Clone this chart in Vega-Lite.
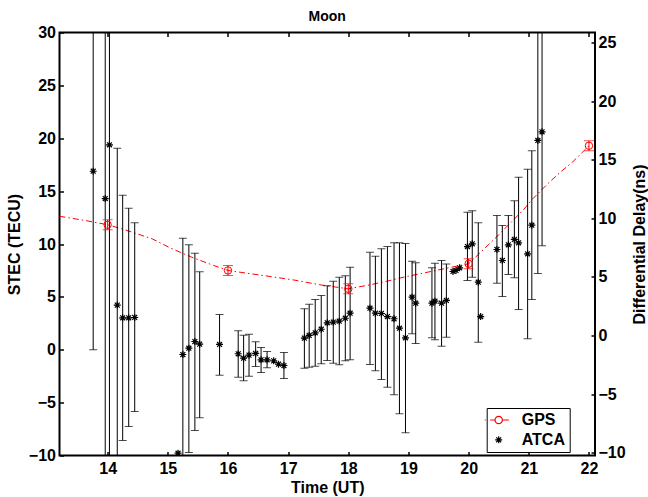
{
  "$schema": "https://vega.github.io/schema/vega-lite/v6.json",
  "width": 535.5,
  "height": 423,
  "autosize": {"type": "none"},
  "padding": {"left": 59.5, "top": 32.5, "right": 53, "bottom": 41.5},
  "background": "white",
  "title": {"text": "Moon", "font": "Liberation Sans", "fontSize": 14, "fontWeight": "bold", "color": "black", "baseline": "alphabetic", "offset": 2.5, "dy": 13},
  "config": {
    "view": {"stroke": "black", "strokeWidth": 2},
    "font": "Liberation Sans",
    "axis": {
      "labelFont": "Liberation Sans", "labelFontWeight": "bold", "labelFontSize": 16, "labelColor": "black",
      "titleFont": "Liberation Sans", "titleFontWeight": "bold", "titleFontSize": 16, "titleColor": "black",
      "domain": false, "tickColor": "black", "tickWidth": 1.5, "tickSize": -4, "grid": false
    }
  },
  "datasets": {
    "gpsline": [
      {"t": 13.2, "stec": 12.62}, {"t": 13.63, "stec": 12.22}, {"t": 14.0, "stec": 11.82}, {"t": 14.29, "stec": 11.34},
      {"t": 14.74, "stec": 10.49}, {"t": 15.05, "stec": 9.6}, {"t": 15.4, "stec": 8.75}, {"t": 15.76, "stec": 7.97},
      {"t": 16.0, "stec": 7.5}, {"t": 16.31, "stec": 7.24}, {"t": 16.7, "stec": 6.93}, {"t": 17.09, "stec": 6.6},
      {"t": 17.53, "stec": 6.14}, {"t": 18.0, "stec": 5.76}, {"t": 18.36, "stec": 6.14}, {"t": 18.64, "stec": 6.48},
      {"t": 18.97, "stec": 6.93}, {"t": 19.24, "stec": 7.24}, {"t": 19.58, "stec": 7.65}, {"t": 20.0, "stec": 8.13},
      {"t": 20.24, "stec": 9.45}, {"t": 20.46, "stec": 10.64}, {"t": 20.68, "stec": 11.91}, {"t": 20.9, "stec": 13.17},
      {"t": 21.07, "stec": 14.3}, {"t": 21.29, "stec": 15.56}, {"t": 21.51, "stec": 16.73}, {"t": 21.73, "stec": 17.77},
      {"t": 22.0, "stec": 19.29}
    ],
    "gps": [
      {"t": 14, "stec": 11.82, "lo": 11.35, "hi": 12.29},
      {"t": 16, "stec": 7.5, "lo": 7.03, "hi": 7.97},
      {"t": 18, "stec": 5.76, "lo": 5.29, "hi": 6.23},
      {"t": 20, "stec": 8.13, "lo": 7.66, "hi": 8.6},
      {"t": 22, "stec": 19.29, "lo": 18.82, "hi": 19.76}
    ],
    "atca": [
      {"t": 13.76, "stec": 16.88, "lo": 0.0, "hi": 33.76},
      {"t": 13.96, "stec": 14.3, "lo": -11.7, "hi": 40.3},
      {"t": 14.03, "stec": 19.38, "lo": -11.6, "hi": 50.4},
      {"t": 14.16, "stec": 4.22, "lo": -10.6, "hi": 19.06},
      {"t": 14.25, "stec": 3.02, "lo": -8.58, "hi": 14.62},
      {"t": 14.35, "stec": 3.02, "lo": -7.26, "hi": 13.39},
      {"t": 14.45, "stec": 3.05, "lo": -5.84, "hi": 12.0},
      {"t": 15.17, "stec": -9.78, "lo": null, "hi": null},
      {"t": 15.25, "stec": -0.45, "lo": -11.45, "hi": 10.55},
      {"t": 15.35, "stec": 0.15, "lo": -9.72, "hi": 9.92},
      {"t": 15.45, "stec": 0.78, "lo": -7.64, "hi": 9.13},
      {"t": 15.53, "stec": 0.53, "lo": -6.44, "hi": 7.37},
      {"t": 15.86, "stec": 0.5, "lo": -2.4, "hi": 3.33},
      {"t": 16.17, "stec": -0.38, "lo": -2.59, "hi": 1.79},
      {"t": 16.26, "stec": -0.8, "lo": -2.94, "hi": 1.38},
      {"t": 16.35, "stec": -0.51, "lo": -2.5, "hi": 1.47},
      {"t": 16.46, "stec": -0.35, "lo": -1.58, "hi": 0.75},
      {"t": 16.55, "stec": -0.95, "lo": -2.15, "hi": 0.21},
      {"t": 16.65, "stec": -0.95, "lo": -1.71, "hi": -0.17},
      {"t": 16.76, "stec": -1.05, "lo": null, "hi": null},
      {"t": 16.84, "stec": -1.37, "lo": null, "hi": null},
      {"t": 16.93, "stec": -1.49, "lo": -2.72, "hi": -0.26},
      {"t": 17.27, "stec": 1.1, "lo": -1.74, "hi": 3.87},
      {"t": 17.35, "stec": 1.35, "lo": -1.65, "hi": 4.31},
      {"t": 17.45, "stec": 1.6, "lo": -1.56, "hi": 4.75},
      {"t": 17.55, "stec": 1.94, "lo": -1.33, "hi": 5.13},
      {"t": 17.65, "stec": 2.55, "lo": -1.02, "hi": 6.05},
      {"t": 17.75, "stec": 2.61, "lo": -1.27, "hi": 6.48},
      {"t": 17.85, "stec": 2.7, "lo": -1.42, "hi": 6.86},
      {"t": 17.95, "stec": 2.98, "lo": -1.05, "hi": 7.0},
      {"t": 18.03, "stec": 3.46, "lo": -0.95, "hi": 7.81},
      {"t": 18.36, "stec": 3.93, "lo": -1.4, "hi": 9.22},
      {"t": 18.45, "stec": 3.46, "lo": -1.99, "hi": 8.85},
      {"t": 18.55, "stec": 3.43, "lo": -2.81, "hi": 9.55},
      {"t": 18.65, "stec": 3.14, "lo": -3.54, "hi": 9.76},
      {"t": 18.76, "stec": 2.93, "lo": -4.26, "hi": 10.11},
      {"t": 18.85, "stec": 2.04, "lo": -6.06, "hi": 10.11},
      {"t": 18.95, "stec": 1.13, "lo": -7.85, "hi": 10.05},
      {"t": 19.06, "stec": 4.97, "lo": 1.51, "hi": 8.37},
      {"t": 19.12, "stec": 4.4, "lo": 0.59, "hi": 8.22},
      {"t": 19.39, "stec": 4.4, "lo": 1.13, "hi": 7.75},
      {"t": 19.44, "stec": 4.59, "lo": 0.94, "hi": 8.18},
      {"t": 19.55, "stec": 4.4, "lo": 0.34, "hi": 8.44},
      {"t": 19.63, "stec": 4.66, "lo": 1.19, "hi": 8.12},
      {"t": 19.74, "stec": 7.4, "lo": null, "hi": null},
      {"t": 19.79, "stec": 7.5, "lo": null, "hi": null},
      {"t": 19.85, "stec": 7.75, "lo": null, "hi": null},
      {"t": 19.98, "stec": 9.76, "lo": 6.55, "hi": 13.01},
      {"t": 20.06, "stec": 10.02, "lo": 6.86, "hi": 13.14},
      {"t": 20.16, "stec": 6.39, "lo": 0.71, "hi": 12.0},
      {"t": 20.2, "stec": 3.14, "lo": null, "hi": null},
      {"t": 20.47, "stec": 9.48, "lo": 6.29, "hi": 12.7},
      {"t": 20.56, "stec": 8.44, "lo": 5.04, "hi": 11.75},
      {"t": 20.66, "stec": 9.92, "lo": 7.12, "hi": 12.7},
      {"t": 20.76, "stec": 10.43, "lo": 6.8, "hi": 14.08},
      {"t": 20.83, "stec": 10.11, "lo": 3.81, "hi": 16.32},
      {"t": 20.98, "stec": 9.07, "lo": 1.04, "hi": 17.07},
      {"t": 21.05, "stec": 11.78, "lo": 4.75, "hi": 18.81},
      {"t": 21.15, "stec": 19.79, "lo": 7.21, "hi": 32.4},
      {"t": 21.22, "stec": 20.61, "lo": 9.83, "hi": 31.4}
    ],
    "rightaxis": [{"t": 14, "ns": 0}]
  },
  "layer": [
    {
      "layer": [
        {
          "data": {"name": "gpsline"},
          "mark": {"type": "line", "color": "#ff0000", "strokeWidth": 1, "strokeDash": [6, 3, 1.5, 3], "clip": true},
          "encoding": {
            "x": {"field": "t", "type": "quantitative", "title": "Time (UT)", "scale": {"domain": [13.2, 22.1], "nice": false, "zero": false},
                  "axis": {"orient": "bottom", "values": [14, 15, 16, 17, 18, 19, 20, 21, 22], "format": "d", "labelPadding": 9, "titleBaseline": "alphabetic", "titleY": 37}},
            "y": {"field": "stec", "type": "quantitative", "title": "STEC (TECU)", "scale": {"domain": [-10, 30], "nice": false, "zero": false},
                  "axis": {"orient": "left", "values": [-10, -5, 0, 5, 10, 15, 20, 25, 30], "format": "d", "labelPadding": 8, "titlePadding": 6}}
          }
        },
        {
          "data": {"name": "atca"},
          "mark": {"type": "rule", "color": "black", "strokeWidth": 1, "clip": true},
          "encoding": {
            "x": {"field": "t", "type": "quantitative", "title": "Time (UT)"},
            "y": {"field": "lo", "type": "quantitative", "title": "STEC (TECU)"},
            "y2": {"field": "hi"}
          }
        },
        {
          "data": {"name": "atca"},
          "mark": {"type": "tick", "orient": "horizontal", "color": "black", "size": 8, "thickness": 1, "clip": true},
          "encoding": {
            "x": {"field": "t", "type": "quantitative", "title": "Time (UT)"},
            "y": {"field": "lo", "type": "quantitative", "title": "STEC (TECU)"}
          }
        },
        {
          "data": {"name": "atca"},
          "mark": {"type": "tick", "orient": "horizontal", "color": "black", "size": 8, "thickness": 1, "clip": true},
          "encoding": {
            "x": {"field": "t", "type": "quantitative", "title": "Time (UT)"},
            "y": {"field": "hi", "type": "quantitative", "title": "STEC (TECU)"}
          }
        },
        {
          "data": {"name": "gps"},
          "mark": {"type": "rule", "color": "#ff0000", "strokeWidth": 1, "clip": true},
          "encoding": {
            "x": {"field": "t", "type": "quantitative", "title": "Time (UT)"},
            "y": {"field": "lo", "type": "quantitative", "title": "STEC (TECU)"},
            "y2": {"field": "hi"}
          }
        },
        {
          "data": {"name": "gps"},
          "mark": {"type": "tick", "orient": "horizontal", "color": "#ff0000", "size": 10, "thickness": 1, "clip": true},
          "encoding": {
            "x": {"field": "t", "type": "quantitative", "title": "Time (UT)"},
            "y": {"field": "lo", "type": "quantitative", "title": "STEC (TECU)"}
          }
        },
        {
          "data": {"name": "gps"},
          "mark": {"type": "tick", "orient": "horizontal", "color": "#ff0000", "size": 10, "thickness": 1, "clip": true},
          "encoding": {
            "x": {"field": "t", "type": "quantitative", "title": "Time (UT)"},
            "y": {"field": "hi", "type": "quantitative", "title": "STEC (TECU)"}
          }
        },
        {
          "data": {"name": "gps"},
          "mark": {"type": "point", "shape": "circle", "filled": false, "color": "#ff0000", "size": 55, "strokeWidth": 1, "opacity": 1, "clip": true},
          "encoding": {
            "x": {"field": "t", "type": "quantitative", "title": "Time (UT)"},
            "y": {"field": "stec", "type": "quantitative", "title": "STEC (TECU)"}
          }
        },
        {
          "data": {"name": "atca"},
          "mark": {"type": "point", "filled": false, "size": 49, "strokeWidth": 1.2, "opacity": 1, "clip": true},
          "encoding": {
            "x": {"field": "t", "type": "quantitative", "title": "Time (UT)"},
            "y": {"field": "stec", "type": "quantitative", "title": "STEC (TECU)"},
            "color": {
              "datum": "ATCA", "type": "nominal",
              "scale": {"domain": ["GPS", "ATCA"], "range": ["#ff0000", "#000000"]},
              "legend": {
                "orient": "none", "legendX": 427.2, "legendY": 375.5, "title": null,
                "fillColor": "white", "strokeColor": "black", "padding": 4,
                "labelFont": "Liberation Sans", "labelFontSize": 16, "labelFontWeight": "bold", "labelColor": "black",
                "labelExpr": "datum.label + ' '",
                "symbolSize": 49, "symbolStrokeWidth": 1.2, "labelOffset": 15, "rowPadding": 3.8
              }
            },
            "shape": {
              "datum": "ATCA", "type": "nominal",
              "scale": {"domain": ["GPS", "ATCA"], "range": [
                "M-5.2,0M-4,0L-3.7,0M-2.4,0L-1.05,0M1.05,0L2.9,0M-1.05,0A1.05,1.05 0 1,0 1.05,0A1.05,1.05 0 1,0 -1.05,0",
                "M0,-1L0,1M-1,0L1,0M-0.7,-0.7L0.7,0.7M-0.7,0.7L0.7,-0.7"
              ]},
              "legend": {
                "orient": "none", "legendX": 427.2, "legendY": 375.5, "title": null,
                "fillColor": "white", "strokeColor": "black", "padding": 4,
                "labelFont": "Liberation Sans", "labelFontSize": 16, "labelFontWeight": "bold", "labelColor": "black",
                "labelExpr": "datum.label + ' '",
                "symbolSize": 49, "symbolStrokeWidth": 1.2, "labelOffset": 15, "rowPadding": 3.8
              }
            }
          }
        }
      ]
    },
    {
      "data": {"name": "rightaxis"},
      "mark": {"type": "point", "opacity": 0},
      "encoding": {
        "x": {"field": "t", "type": "quantitative", "scale": {"domain": [13.2, 22.1], "nice": false, "zero": false},
              "axis": {"orient": "top", "labels": false, "title": null, "values": [14, 15, 16, 17, 18, 19, 20, 21, 22]}},
        "y": {"field": "ns", "type": "quantitative", "title": "Differential Delay(ns)",
              "scale": {"domain": [-10.24, 25.85], "nice": false, "zero": false},
              "axis": {"orient": "right", "values": [-10, -5, 0, 5, 10, 15, 20, 25], "format": "d", "labelPadding": 7, "titleAngle": 270, "titleBaseline": "top", "titlePadding": 6}}
      }
    }
  ],
  "resolve": {"scale": {"y": "independent"}, "axis": {"x": "independent", "y": "independent"}}
}
